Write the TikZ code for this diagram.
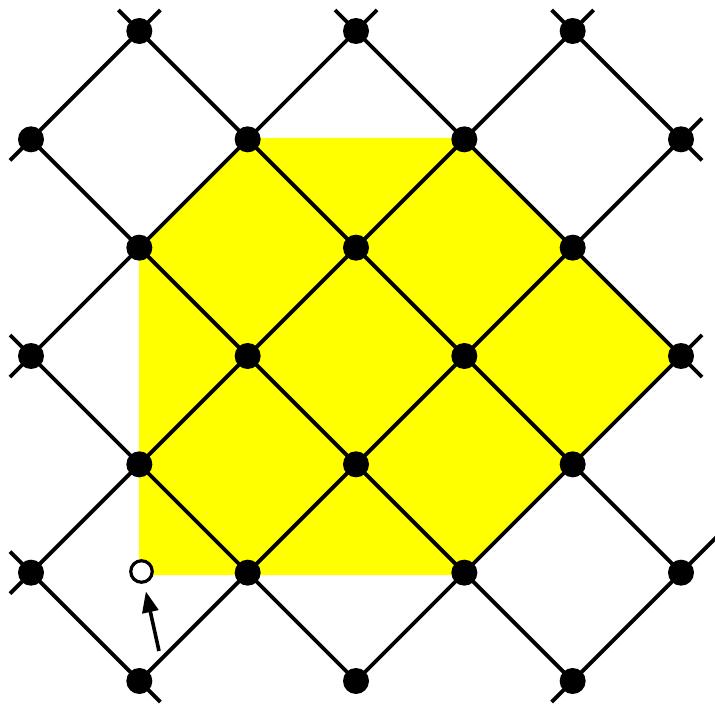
\documentclass[tikz,border=0pt]{standalone}
\usetikzlibrary{calc,arrows.meta}
\definecolor{pureyellow}{RGB}{255,255,0}
\begin{document}
\begin{tikzpicture}[x=1pt,y=-1pt,
  lat/.style={line width=3.8pt,line cap=butt},
  dot/.style={circle,fill=black,inner sep=0pt,minimum size=26pt},
  hole/.style={circle,draw=black,fill=white,line width=3.2pt,inner sep=0pt,minimum size=21.5pt},
  pointer/.style={line width=3.6pt,-{Triangle[length=21pt,width=16pt]},shorten >=8pt}]
\useasboundingbox (0,0) rectangle (715,706);
\def\s{108.333}
\foreach \i in {0,...,6}{\foreach \j in {0,...,6}{
  \coordinate (p-\i-\j) at ({31+\s*\i},{31+\s*\j});}}
% yellow region
\fill[pureyellow] (139,249) -- (251,138) -- (465,138) -- (p-6-3) -- (464,575) -- (139,575) -- cycle;
% stub end coordinates
\def\e{21}
\coordinate (ul-1-0) at ($(p-1-0)+(-\e,-\e)$);
\coordinate (ur-1-0) at ($(p-1-0)+(\e,-\e)$);
\coordinate (ul-3-0) at ($(p-3-0)+(-\e,-\e)$);
\coordinate (ur-3-0) at ($(p-3-0)+(\e,-\e)$);
\coordinate (ul-5-0) at ($(p-5-0)+(-\e,-\e)$);
\coordinate (ur-5-0) at ($(p-5-0)+(\e,-\e)$);
\coordinate (dl-0-1) at ($(p-0-1)+(-\e,\e)$);
\coordinate (ul-0-3) at ($(p-0-3)+(-\e,-\e)$);
\coordinate (dl-0-3) at ($(p-0-3)+(-\e,\e)$);
\coordinate (ul-0-5) at ($(p-0-5)+(-\e,-\e)$);
\coordinate (dl-0-5) at ($(p-0-5)+(-\e,\e)$);
\coordinate (ur-6-1) at ($(p-6-1)+(\e,-\e)$);
\coordinate (dr-6-1) at ($(p-6-1)+(\e,\e)$);
\coordinate (ur-6-3) at ($(p-6-3)+(\e,-\e)$);
\coordinate (dr-6-3) at ($(p-6-3)+(\e,\e)$);
\coordinate (ur-6-5) at ($(p-6-5)+(45,-45)$);
\coordinate (dr-1-6) at ($(p-1-6)+(\e,\e)$);
\coordinate (dl-5-6) at ($(p-5-6)+(-\e,\e)$);
% lines "\" direction
\draw[lat] (ul-5-0) -- (dr-6-1);
\draw[lat] (ul-3-0) -- (dr-6-3);
\draw[lat] (ul-1-0) -- (p-6-5);
\draw[lat] (p-0-1) -- (p-5-6);
\draw[lat] (ul-0-3) -- (p-3-6);
\draw[lat] (ul-0-5) -- (dr-1-6);
% lines "/" direction
\draw[lat] (dl-0-1) -- (ur-1-0);
\draw[lat] (dl-0-3) -- (ur-3-0);
\draw[lat] (dl-0-5) -- (ur-5-0);
\draw[lat] (p-1-6) -- (ur-6-1);
\draw[lat] (p-3-6) -- (ur-6-3);
\draw[lat] (dl-5-6) -- (ur-6-5);
% dots
\foreach \i/\j in {1/0,3/0,5/0,0/1,2/1,4/1,6/1,1/2,3/2,5/2,0/3,2/3,4/3,6/3,1/4,3/4,5/4,0/5,2/5,4/5,6/5,1/6,3/6,5/6}
  \node[dot] (d-\i-\j) at (p-\i-\j) {};
% hole and arrow
\node[hole] (h) at (141.5,571.5) {};
\coordinate (atail) at (159,651);
\draw[pointer] (atail) -- (h);
\end{tikzpicture}
\end{document}
